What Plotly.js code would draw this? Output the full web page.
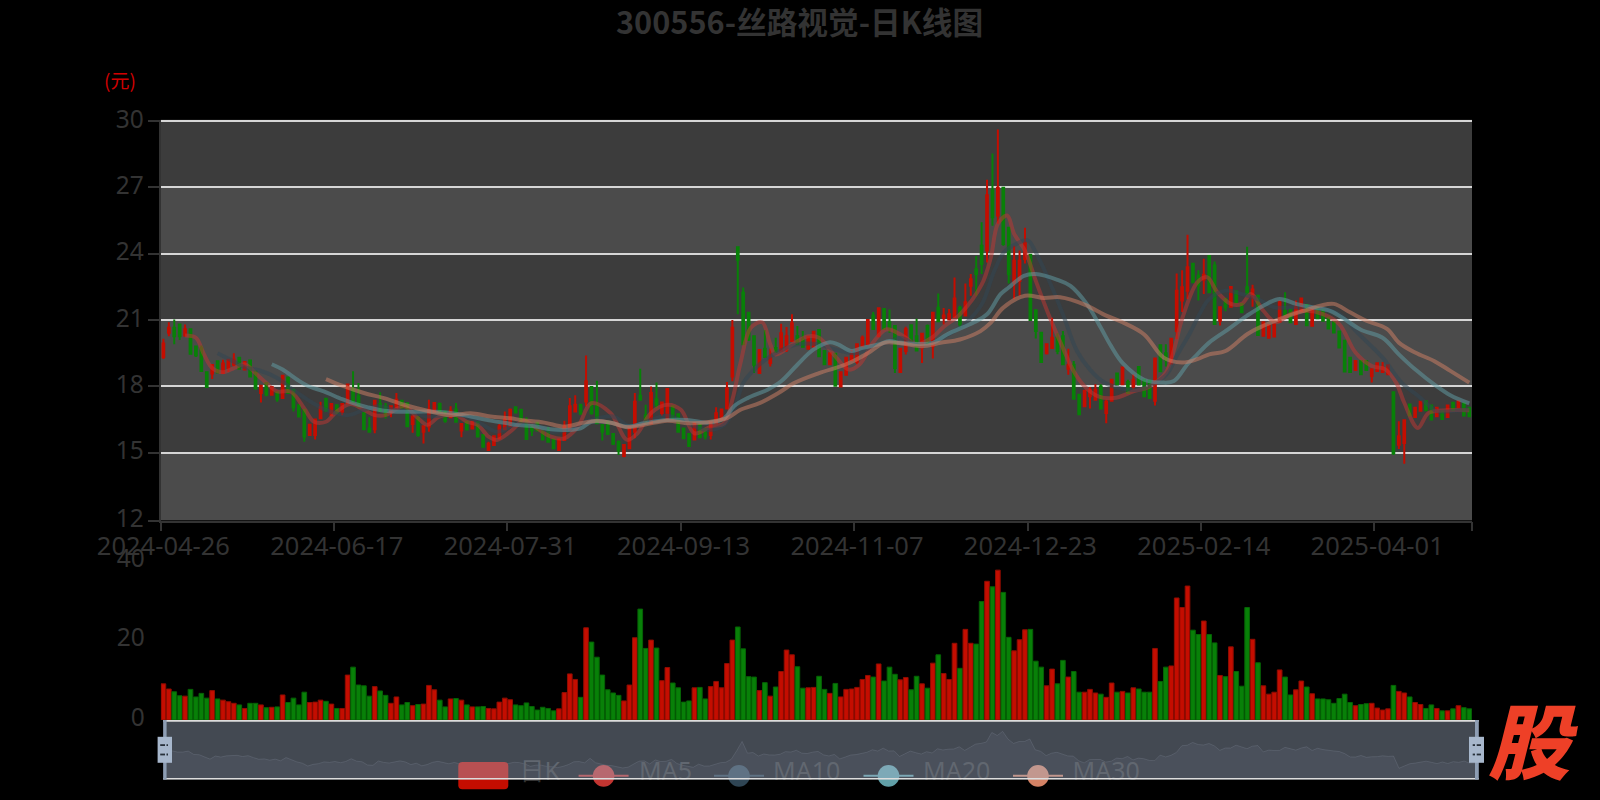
<!DOCTYPE html>
<html><head><meta charset="utf-8">
<script src="https://cdn.plot.ly/plotly-3.0.1.min.js"></script>
<style>html,body{margin:0;padding:0;background:#000}#c{width:1600px;height:800px}</style>
</head><body><div id="c"></div>
<script>
const tickIndex=[0,32,64,96,128,160,192,224];
const tickLabels=['2024-04-26','2024-06-17','2024-07-31','2024-09-13','2024-11-07','2024-12-23','2025-02-14','2025-04-01'];
const open=[19.33,20.42,20.65,20.8,20.3,20.58,19.8,19.73,18.64,18.58,19.14,18.6,18.83,18.98,19.3,18.76,19.17,18.67,17.7,18.15,17.62,17.73,17.47,18.4,17.85,17.15,16.94,15.8,15.8,16.56,17.44,16.7,17.15,16.85,17.24,17.87,17.55,16.8,16.1,16.06,17.2,17.1,16.86,17.0,17.35,17.24,16.3,16.6,15.95,16.18,16.85,17.2,16.85,16.6,16.95,16.0,16.4,16.1,16.38,15.8,15.12,15.35,15.65,16.06,16.2,17.06,16.94,16.4,16.25,16.36,16.0,16.03,15.6,15.12,15.58,16.03,16.86,17.17,17.32,17.97,17.12,16.25,16.36,15.85,15.5,14.85,15.2,15.95,17.58,16.7,16.33,17.42,16.8,16.56,17.1,16.74,16.1,15.85,15.6,16.26,16.08,15.8,16.36,16.5,17.0,18.45,24.29,22.24,21.33,20.27,18.6,19.7,19.06,19.74,19.6,19.67,20.05,20.27,20.12,19.7,19.79,20.55,19.6,19.0,19.48,18.0,18.53,19.18,19.1,19.82,19.9,21.2,20.27,21.5,20.9,20.73,18.65,19.6,20.77,20.27,19.74,20.73,19.82,21.56,21.1,21.03,21.14,21.56,21.2,22.55,23.3,24.36,24.14,26.86,25.73,26.98,25.17,22.7,22.77,23.76,23.95,21.44,20.43,19.5,19.74,20.2,20.27,18.8,18.98,17.62,17.1,17.55,17.4,18.0,16.8,17.35,18.58,18.1,18.2,18.0,18.88,18.3,18.25,17.35,19.86,19.5,19.03,20.5,21.88,22.33,23.55,23.0,22.83,23.9,23.47,20.97,21.95,21.6,22.3,21.73,22.48,22.03,22.1,20.29,20.2,20.26,20.92,21.42,21.47,20.82,21.42,21.68,20.74,21.55,21.45,21.12,20.9,20.48,20.06,19.3,18.74,19.15,19.15,18.47,18.7,18.65,18.55,17.74,15.36,15.44,17.18,16.62,16.9,17.33,17.13,16.65,16.88,16.62,17.26,17.06,17.23,17.03];
const close=[19.94,20.65,20.27,20.27,20.58,19.48,19.4,18.7,17.97,18.97,18.63,19.03,19.2,19.2,18.8,19.1,18.45,17.92,18.03,17.62,17.97,17.42,18.48,17.7,17.06,16.64,15.73,16.26,16.5,17.06,16.9,17.2,16.8,17.2,18.08,17.3,17.1,16.06,15.95,17.35,16.9,16.7,17.1,17.4,17.03,16.2,16.64,15.8,16.2,16.94,17.25,16.85,16.45,16.9,16.4,16.3,16.05,16.4,15.73,15.27,15.4,15.75,16.2,16.5,16.94,16.82,16.38,15.62,16.0,16.0,15.6,15.5,15.2,15.6,16.18,17.1,17.17,16.76,18.23,16.8,16.33,15.95,15.85,15.4,15.1,15.35,16.2,17.3,17.4,16.4,17.7,17.17,17.27,17.88,16.56,15.95,15.65,15.3,16.33,15.7,15.73,16.38,16.79,16.96,17.9,20.65,23.73,19.9,20.12,18.98,19.64,19.33,19.3,19.55,20.4,20.27,20.85,19.9,19.79,20.24,20.47,19.36,19.0,19.5,18.03,18.64,19.3,19.44,19.9,20.2,21.0,20.6,21.53,20.6,20.65,18.83,19.7,20.58,20.05,19.62,20.38,19.97,21.33,20.95,21.2,21.26,21.98,20.8,21.8,22.85,23.08,23.53,26.64,25.65,26.98,24.44,23.08,23.68,23.68,24.5,21.0,20.5,19.1,19.9,20.2,19.6,19.0,18.95,17.44,16.74,17.8,17.85,17.85,17.0,17.3,18.3,18.08,18.85,17.7,18.3,18.08,17.55,17.47,19.26,18.68,19.2,20.15,22.33,22.48,23.39,22.71,22.56,23.05,22.26,20.82,21.58,21.58,22.5,21.8,21.35,22.18,22.38,20.32,20.9,20.77,20.8,21.8,21.23,20.9,21.58,21.98,20.77,21.5,21.08,20.97,20.62,20.44,19.76,18.67,18.65,19.15,18.55,18.74,18.77,19.05,18.85,18.95,14.98,15.74,16.47,16.68,17.03,17.3,16.92,16.5,17.03,16.53,17.14,16.92,17.33,16.68,16.65];
const low=[19.24,20.27,19.9,20.1,20.24,19.48,19.33,18.68,17.95,18.33,18.6,18.58,18.65,18.9,18.78,18.73,18.43,17.85,17.27,17.55,17.6,17.3,17.45,17.68,16.86,16.62,15.5,15.78,15.6,16.54,16.86,16.64,16.78,16.7,17.22,17.25,17.08,16.04,15.9,15.88,16.88,16.55,16.6,16.98,17.0,16.18,15.9,15.72,15.42,15.95,16.83,16.83,16.35,16.58,16.38,15.7,16.0,16.08,15.7,15.25,15.09,15.33,15.6,16.03,16.18,16.8,16.36,15.6,15.76,15.98,15.58,15.48,15.16,15.1,15.56,16.01,16.84,16.74,17.1,16.72,16.3,15.55,15.83,15.35,14.9,14.8,15.18,15.65,17.38,16.3,16.28,17.0,16.67,16.54,16.54,15.93,15.63,15.28,15.58,15.68,15.6,15.6,16.34,16.48,16.95,18.23,21.26,19.88,20.05,18.6,18.58,19.3,18.9,19.53,19.58,19.55,20.03,19.88,19.77,19.68,19.77,19.34,18.98,18.98,18.01,17.98,18.5,19.16,19.0,19.8,19.88,20.58,20.25,20.58,20.42,18.6,18.63,19.44,20.03,19.6,19.06,19.9,19.26,20.93,20.8,21.0,21.1,20.65,21.18,22.1,22.1,23.08,23.6,25.27,25.35,24.36,22.65,21.94,22.1,23.56,20.98,20.17,19.08,19.44,19.72,19.45,18.98,18.53,17.42,16.72,17.08,17.0,17.38,16.98,16.33,17.33,18.06,18.08,17.68,17.85,18.06,17.53,17.45,17.14,18.66,18.9,19.01,20.13,21.36,21.95,22.69,21.88,22.18,22.24,20.8,20.75,21.4,21.58,21.78,21.33,22.16,21.6,20.3,20.27,20.18,20.24,20.9,21.2,20.88,20.8,21.4,20.75,20.72,21.06,20.95,20.6,20.42,19.74,18.65,18.63,18.72,18.53,18.72,18.17,18.68,18.63,18.53,14.9,15.17,14.5,16.66,16.6,16.88,16.9,16.48,16.63,16.51,16.6,16.9,17.04,16.66,16.63];
const high=[20.15,20.9,21.03,20.82,20.8,20.6,19.82,19.85,18.66,19.0,19.16,19.2,19.24,19.5,19.32,19.12,19.2,18.7,18.05,18.17,18.0,17.75,18.5,18.42,17.87,17.17,16.96,16.28,16.52,17.3,17.46,17.22,17.17,17.24,18.1,18.68,18.15,16.82,16.6,17.37,17.73,17.25,17.12,17.7,17.37,17.26,16.66,16.62,16.22,17.4,17.27,17.27,16.87,17.1,17.25,16.32,16.42,16.42,16.4,15.82,15.5,15.77,16.3,16.86,17.0,17.08,16.96,16.6,16.27,16.38,16.02,16.15,15.62,15.62,16.45,17.47,17.6,17.19,19.4,17.99,18.26,16.27,16.45,15.87,15.55,15.37,16.22,17.7,18.8,17.17,18.0,18.18,17.29,17.9,17.12,16.76,16.12,15.87,16.35,16.28,16.1,16.4,17.06,16.98,18.2,21.0,24.29,22.47,21.35,20.29,19.66,20.55,19.7,20.2,20.83,20.68,21.26,20.73,20.5,20.26,20.49,20.57,19.62,19.52,19.5,18.66,19.32,19.64,19.92,20.3,21.02,21.36,21.55,21.55,21.48,20.75,19.72,20.7,20.79,21.06,20.4,20.8,21.35,22.2,21.55,21.5,22.92,21.65,22.65,23.08,23.9,25.42,27.35,28.53,29.62,27.0,25.19,24.36,24.14,25.17,23.97,21.46,20.45,19.92,21.1,20.4,20.5,19.7,19.15,17.64,17.82,17.97,18.1,18.1,17.4,18.32,18.6,18.87,18.3,18.55,18.9,18.32,18.27,19.28,19.88,19.9,20.17,23.1,23.25,24.86,23.57,23.25,23.77,23.92,23.65,21.6,21.98,22.52,22.32,21.75,24.32,22.6,22.12,20.92,20.79,20.82,21.9,22.26,21.49,21.88,22.0,21.7,21.52,21.57,21.47,21.14,20.92,20.5,20.08,19.32,19.17,19.17,19.17,18.79,19.07,19.1,18.97,17.76,16.42,16.49,17.2,17.05,17.32,17.35,17.15,17.05,16.9,17.16,17.28,17.35,17.25,17.05];
const volume=[9.1,7.8,7.1,6.1,6.0,7.7,5.8,6.7,5.5,7.4,5.3,5.0,4.6,4.2,3.8,2.9,4.2,4.2,3.8,3.1,3.2,3.3,6.3,4.4,5.5,3.8,7.0,4.4,4.5,5.0,4.7,4.0,2.9,2.9,11.3,13.3,8.8,8.6,6.0,8.4,7.3,6.2,4.2,5.8,3.8,4.4,3.6,3.9,4.0,8.7,7.6,5.0,3.3,5.3,5.4,5.0,3.8,3.3,3.3,3.4,2.9,2.8,4.5,5.5,5.1,3.8,3.6,4.3,3.4,2.5,3.2,2.9,2.3,2.8,6.9,11.6,10.2,5.7,23.2,19.6,15.8,11.3,7.6,6.8,6.2,4.8,8.8,20.7,27.9,18.0,20.1,18.1,9.9,13.2,9.3,8.1,4.5,4.8,8.1,8.2,5.3,8.4,9.7,8.1,14.2,20.1,23.4,17.9,10.9,10.8,7.4,9.4,6.0,8.3,12.2,17.6,16.4,13.4,8.0,8.1,8.2,11.0,7.7,6.7,9.2,5.8,7.7,7.8,8.2,10.2,11.2,10.8,14.1,9.8,13.3,11.5,10.1,10.7,7.6,11.0,9.1,8.0,14.3,16.4,11.7,10.2,19.3,13.0,22.8,19.3,19.1,29.8,34.9,33.5,37.7,32.1,20.8,17.4,20.2,22.7,22.8,14.8,13.3,8.6,12.8,9.1,15.0,10.8,12.2,7.0,7.0,7.7,6.8,6.5,5.7,9.3,7.0,7.2,6.8,8.1,7.8,7.0,7.0,18.0,9.7,13.3,13.6,30.7,28.3,33.7,22.6,21.5,24.9,21.5,19.4,11.2,10.9,18.4,12.2,8.5,28.3,20.3,14.4,8.6,6.5,7.0,12.6,10.8,6.3,7.6,9.8,8.3,6.6,5.3,5.3,5.1,4.2,5.4,6.5,4.4,3.6,3.9,4.1,4.2,3.0,2.5,2.8,8.7,7.2,6.8,5.8,4.4,3.9,2.9,3.8,2.9,2.3,2.3,2.8,3.6,3.1,2.8];

const ma5X=[4,6,7.5,9,11,13,15,17.3,19,21,23.5,26,27.8,30,32,34.5,37,39,41,44.4,47,48.7,51,54,56,58,60,61.6,64,66.5,68.4,71.5,74,76.5,79,82.5,85.6,87.5,90,93,95.5,98,101,103.5,105,106.5,108.4,110.5,112,113,116.5,119,121,124,126.5,128.5,131,133.5,136,137,139,141.8,144,147,151,152.7,154,155.7,157,159,161,163.6,166,168,170,172.5,175.4,179,182,185,186.7,188,190.8,192.6,194.5,197,199,200.7,203,205.3,208,211,214,217,220,223,225.5,227.5,229,231.5,233.5,237,241];
const ma5Y=[20.3,20.2,19.44,18.83,18.64,18.83,19.0,18.53,18.15,17.77,17.77,17.0,16.4,16.4,16.86,17.2,16.94,16.7,16.7,17.1,16.56,16.26,16.64,16.7,16.4,16.26,15.73,15.58,15.95,16.45,16.2,15.73,15.65,16.18,17.24,16.8,15.58,15.88,16.8,17.17,16.94,15.88,16.18,16.33,17.4,19.06,20.65,20.9,19.9,19.44,19.97,20.27,20.2,19.36,18.76,19.0,20.0,20.58,20.35,20.2,19.9,20.2,20.7,21.26,22.6,23.83,25.35,25.73,24.9,24.14,22.77,21.1,19.74,18.68,18.0,17.55,17.47,17.77,18.0,18.62,19.83,21.05,22.7,22.94,22.26,21.73,21.73,22.18,21.42,20.9,21.27,21.42,21.27,20.82,19.53,18.92,18.77,18.17,17.26,16.12,16.8,16.92,16.92];
const ma10X=[10,12.4,15.5,17.6,21,23.5,26.6,30,34,37,39.5,42.6,45.6,48.7,52.4,56,59,61.6,64.7,67.8,71.5,74.5,78,83,86,89,93,96.7,100.4,103.5,105.3,107,109.6,112,115,117,121,124,127.6,131,134,136,140,143,146,147.8,151,153.3,155.1,157.6,159.5,161,164,166,168.6,171,173.5,176.6,180,185,187,189.5,191.4,193,196,199,202,205,209,212,217,220.3,225,228.5,231.6,235,237.5,241];
const ma10Y=[19.5,19.2,18.83,18.73,18.38,17.92,17.4,16.94,16.7,16.94,17.1,16.94,16.86,16.64,16.7,16.64,16.26,15.95,16.26,16.3,15.95,16.03,16.4,16.64,16.2,16.4,16.67,16.33,16.03,16.26,16.94,18.15,18.9,19.36,19.74,19.9,19.9,19.67,19.5,19.8,20.0,20.2,19.8,20.1,20.5,20.8,21.7,23.2,24.06,24.47,24.6,24.06,22.47,21.26,19.6,18.76,18.2,17.92,17.85,18.5,19.38,20.44,21.35,21.95,22.33,22.18,21.95,21.58,21.58,21.58,21.27,20.44,19.3,18.17,17.56,16.88,16.88,16.95];
const ma20X=[20,22,24.7,26.6,29.6,33,35,37.6,40.7,44.4,48.7,53,56.7,60.4,63.5,65,68.4,71.5,74.5,77,79,82.5,85.6,88.7,93,96.7,100.4,103.5,105.3,107.8,111.5,114,117,120,123,124.5,127,129,132,134,136,142,144.6,149.6,152,154.5,156,158.8,161,165,167.4,170.5,173,174.9,177,181,184.6,186.5,189,190.8,193,196,200,203,206,209,212,215.3,218.4,221,225,228,231,235,237.5,241];
const ma20Y=[19.0,18.76,18.3,18.03,17.77,17.42,17.24,17.06,16.9,16.85,16.86,16.8,16.64,16.45,16.33,16.26,16.2,16.06,16.03,16.1,16.4,16.36,16.18,16.33,16.48,16.48,16.36,16.56,17.1,17.47,17.85,18.23,18.98,19.67,20.0,19.9,19.6,19.74,19.9,20.05,19.97,19.97,20.35,20.9,21.26,22.17,22.47,23.0,23.08,22.82,22.55,21.7,20.65,19.82,19.06,18.3,18.17,18.24,19.0,19.45,19.98,20.5,21.2,21.65,21.95,21.73,21.58,21.42,20.97,20.56,20.2,19.45,18.77,18.0,17.6,17.23];
const ma30X=[30,33,37,40.7,44.4,48.7,53,56.7,60.4,64,66,70.3,74,77,80,83,85.6,88.7,93,97,101,104,106.5,110,113.5,116.4,121,126,130,133,136,140,143.4,147,150.8,152.7,155,159,162.5,165.5,170,174,177,181,184.6,188,190.8,193,196,200,203,206.8,210.5,213.5,216,219,222,225.8,228,231,234.5,237.5,241];
const ma30Y=[18.33,18.03,17.7,17.47,17.17,16.9,16.7,16.79,16.64,16.56,16.48,16.36,16.18,16.33,16.45,16.33,16.15,16.26,16.45,16.33,16.4,16.56,16.94,17.24,17.7,18.15,18.6,19.0,19.5,19.97,19.95,19.82,19.97,20.12,20.5,20.88,21.56,22.1,22.0,22.03,21.7,21.2,20.9,20.35,19.3,19.08,19.23,19.45,19.6,20.36,20.74,21.12,21.42,21.65,21.73,21.35,20.97,20.6,19.98,19.53,19.15,18.7,18.17];

const legendNames=['日K','MA5','MA10','MA20','MA30'];
const legendTextX=[519.5,639,773,923,1072.5];
const maColors=['#c23531','#2f4554','#61a0a8','#d48265'];
const legendLineX=[578.6,714,863.5,1013];
const priceTickVals=[11.93,15,18,21,24,27,30];
const priceTickText=['12','15','18','21','24','27','30'];

const UP='#c40d00',DOWN='#088008',UPB='#8f0c00',DOWNB='#056205',TXT='#333333';
const W=1600,H=800;
const px=v=>v/W, py=v=>1-v/H;
const X0=160.7,X1=1472;
const xRange=[-0.5,241.5];
const isUp=close.map((c,i)=>c>=open[i]);

const maSeries=[[ma5X,ma5Y,'MA5'],[ma10X,ma10Y,'MA10'],[ma20X,ma20Y,'MA20'],[ma30X,ma30Y,'MA30']];
const traces=[
 {type:'candlestick',x:volume.map((_,i)=>i),open,close,low,high,xaxis:'x',yaxis:'y',
  increasing:{line:{color:UP,width:2},fillcolor:UP},decreasing:{line:{color:DOWN,width:2},fillcolor:DOWN},
  whiskerwidth:0,showlegend:false,hoverinfo:'skip'},
 ...maSeries.map((m,k)=>({type:'scatter',mode:'lines',x:m[0],y:m[1],name:m[2],xaxis:'x4',yaxis:'y',
  line:{color:maColors[k],width:4,shape:'spline',smoothing:1},opacity:0.5,showlegend:false,hoverinfo:'skip'})),
 {type:'bar',x:volume.map((_,i)=>i),y:volume,xaxis:'x2',yaxis:'y2',
  marker:{color:isUp.map(u=>u?UP:DOWN),line:{color:isUp.map(u=>u?UPB:DOWNB),width:1}},showlegend:false,hoverinfo:'skip'},
 {type:'scatter',mode:'lines',x:close.map((_,i)=>i),y:close,xaxis:'x3',yaxis:'y3',fill:'tozeroy',
  fillcolor:'rgba(40,40,50,0.3)',line:{color:'rgba(130,135,150,0.22)',width:1},showlegend:false,hoverinfo:'skip'},
 {type:'scatter',mode:'text',x:legendTextX,y:legendNames.map(()=>774),text:legendNames,textposition:'middle right',
  textfont:{family:'"Noto Sans","Noto Sans CJK SC",sans-serif',size:25,color:TXT},xaxis:'x5',yaxis:'y5',cliponaxis:false,showlegend:false,hoverinfo:'skip'}
];

const shapes=[];
const bands=[[30.065,27,'#3c3c3c'],[27,24,'#4b4b4b'],[24,21,'#3c3c3c'],[21,18,'#4b4b4b'],[18,15,'#3c3c3c'],[15,11.93,'#4b4b4b']];
bands.forEach(b=>shapes.push({type:'rect',layer:'below',xref:'paper',yref:'y',x0:px(X0),x1:px(X1),y0:b[0],y1:b[1],fillcolor:b[2],line:{width:0}}));
const P=(o)=>Object.assign({layer:'above',xref:'x5',yref:'y5'},o);
// legend (under the slider)
shapes.push(P({type:'path',path:'M 462.3 762 H 504.3 Q 508.3 762 508.3 766 V 785.3 Q 508.3 789.3 504.3 789.3 H 462.3 Q 458.3 789.3 458.3 785.3 V 766 Q 458.3 762 462.3 762 Z',fillcolor:UP,line:{width:0}}));
legendLineX.forEach((x,k)=>{
 shapes.push(P({type:'rect',x0:x,x1:x+50,y0:774.8,y1:776.8,fillcolor:maColors[k],line:{width:0}}));
 shapes.push(P({type:'circle',x0:x+14.2,x1:x+35.8,y0:765,y1:786.8,fillcolor:maColors[k],line:{width:0}}));
});
// slider
const SL=163.2,SR=1478.7,ST=720,SB=779.6;
shapes.push(P({type:'rect',x0:SL,x1:SR,y0:ST,y1:SB,fillcolor:'rgba(167,183,204,0.4)',line:{width:0}}));
shapes.push(P({type:'rect',x0:SL,x1:SR,y0:ST,y1:ST+1.7,fillcolor:'#dddddd',line:{width:0}}));
shapes.push(P({type:'rect',x0:SL,x1:SR,y0:SB-1.7,y1:SB,fillcolor:'#dddddd',line:{width:0}}));
shapes.push(P({type:'rect',x0:SL,x1:SL+3.4,y0:ST,y1:SB,fillcolor:'#8d9db3',line:{width:0}}));
shapes.push(P({type:'rect',x0:SR-3.7,x1:SR,y0:ST,y1:SB,fillcolor:'#8d9db3',line:{width:0}}));
[[157.6,172,[160.2,165],[166.5,168]],[1469,1484,[1472.7,1475],[1476.7,1481]]].forEach(g=>{
 shapes.push(P({type:'rect',x0:g[0],x1:g[1],y0:736.8,y1:762.8,fillcolor:'#a7b7cc',line:{width:0}}));
 [744.2,753.6].forEach(y=>{
  shapes.push(P({type:'rect',x0:g[2][0],x1:g[2][1],y0:y,y1:y+1.8,fillcolor:'#27303a',line:{width:0}}));
  shapes.push(P({type:'rect',x0:g[3][0],x1:g[3][1],y0:y,y1:y+1.8,fillcolor:'#27303a',line:{width:0}}));
 });
});

const labelFont={family:'"Noto Sans",sans-serif',size:24.5,color:TXT};
const layout={
 width:W,height:H,margin:{l:0,r:0,t:0,b:0,pad:0},paper_bgcolor:'#000',plot_bgcolor:'rgba(0,0,0,0)',
 showlegend:false,dragmode:false,boxgap:0.55,bargap:0.14,
 xaxis:{domain:[px(X0),px(X1)],range:xRange,type:'linear',anchor:'y',tickmode:'array',tickvals:tickIndex,ticktext:tickLabels,
  ticks:'',tickfont:{family:'"Noto Sans",sans-serif',size:25.5,color:TXT},showgrid:false,zeroline:false,showline:true,linecolor:TXT,linewidth:2,
  ticklabelstandoff:2,rangeslider:{visible:false},fixedrange:true},
 xaxis4:{overlaying:'x',anchor:'y',range:xRange,type:'linear',side:'bottom',tickmode:'array',
  tickvals:tickIndex.map(v=>v-0.5).concat([xRange[1]]),showticklabels:false,ticks:'outside',ticklen:9,tickwidth:2,tickcolor:TXT,showgrid:false,zeroline:false,showline:false,fixedrange:true},
 yaxis:{domain:[py(520.6),py(119.6)],range:[11.93,30.065],anchor:'x',tickmode:'array',tickvals:priceTickVals,ticktext:priceTickText,tickfont:labelFont,
  ticks:'outside',ticklen:11,tickwidth:2,tickcolor:TXT,showline:true,linecolor:TXT,linewidth:2,showgrid:true,gridcolor:'#d6d6d6',gridwidth:2,zeroline:false,
  ticklabelstandoff:-1,ticklabelshift:-2,fixedrange:true},
 xaxis2:{domain:[px(X0),px(X1)],range:xRange,anchor:'y2',type:'linear',visible:false,fixedrange:true},
 yaxis2:{domain:[py(720),py(561)],range:[0,40],anchor:'x2',tickmode:'array',tickvals:[0,20,40],tickfont:labelFont,
  ticks:'outside',ticklen:11,tickwidth:2,tickcolor:'#000',showline:false,showgrid:false,zeroline:false,ticklabelstandoff:-1,ticklabelshift:-3,fixedrange:true},
 xaxis3:{domain:[px(166.6),px(1475)],range:[0,241],anchor:'y3',type:'linear',visible:false,fixedrange:true},
 yaxis3:{domain:[py(779),py(720)],range:[11.5,30.7],anchor:'x3',visible:false,fixedrange:true},
 xaxis5:{domain:[0,1],range:[0,W],anchor:'y5',visible:false,fixedrange:true},
 yaxis5:{domain:[0,1],range:[H,0],anchor:'x5',visible:false,fixedrange:true},
 shapes,
 annotations:[
  {xref:'paper',yref:'paper',x:799.5/W,y:py(21),xanchor:'center',yanchor:'middle',showarrow:false,text:'300556-丝路视觉-日K线图',
   font:{family:'"Noto Sans CJK SC",sans-serif',size:30.7,weight:700,color:TXT}},
  {xref:'paper',yref:'paper',x:120/W,y:py(79.5),xanchor:'center',yanchor:'middle',showarrow:false,text:'(元)',
   font:{family:'"Noto Sans CJK SC",sans-serif',size:19,color:'#d00000'}},
  {xref:'paper',yref:'paper',x:1533/W,y:py(737),xanchor:'center',yanchor:'middle',showarrow:false,text:'股',
   font:{family:'"Noto Sans CJK SC",sans-serif',size:82,weight:900,style:'italic',color:'#ee4027'}}
 ]
};
Plotly.newPlot('c',traces,layout,{displayModeBar:false,staticPlot:true});
</script></body></html>
